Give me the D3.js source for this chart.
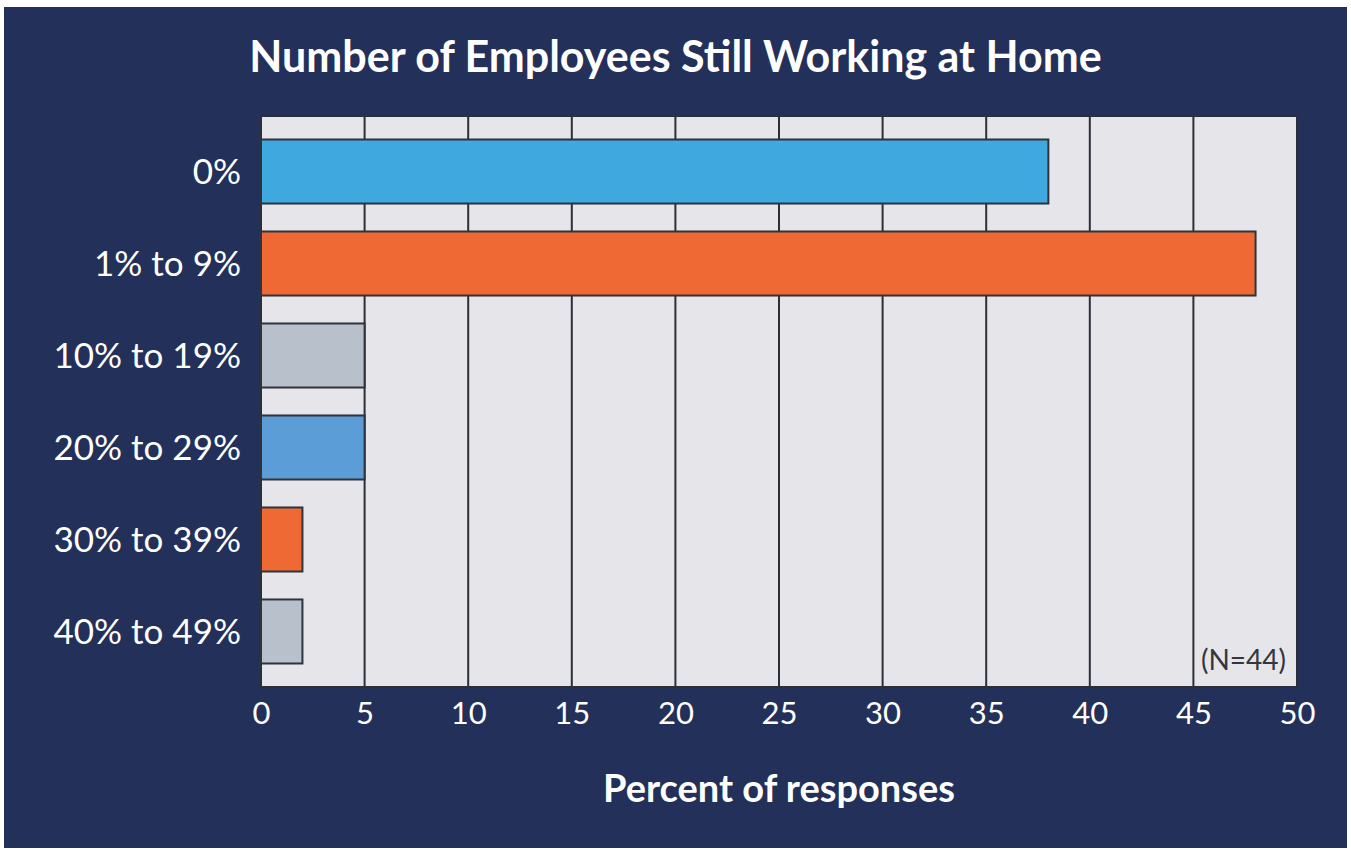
<!DOCTYPE html>
<html>
<head>
<meta charset="utf-8">
<script src="https://cdn.jsdelivr.net/npm/d3@7"></script>
<style>
  html, body { margin: 0; padding: 0; background: #ffffff; }
  svg { display: block; }
</style>
</head>
<body>
<svg id="chart" width="1351" height="850"></svg>
<script>
// Survey data: share of respondents by how many employees still work from home
const categories = ["0%", "1% to 9%", "10% to 19%", "20% to 29%", "30% to 39%", "40% to 49%"];
const percentValues = [38, 48, 5, 5, 2, 2];
const barColors = ["#3fa9df", "#ee6934", "#b8c1cb", "#5b9dd6", "#ee6934", "#b8c1cb"];
const xTicks = [0, 5, 10, 15, 20, 25, 30, 35, 40, 45, 50];
const titleText = "Number of Employees Still Working at Home";
const xAxisTitle = "Percent of responses";
const sampleNote = "(N=44)";

const svg = d3.select("#chart");
const W = 1351, H = 850;
const plot = { left: 261, right: 1297, top: 116, bottom: 687 };

// navy card
svg.append("rect")
  .attr("x", 4).attr("y", 7)
  .attr("width", 1343).attr("height", 841)
  .attr("fill", "#23305a");

const x = d3.scaleLinear().domain([0, 50]).range([plot.left, plot.right]);
const y = d3.scaleBand()
  .domain(categories)
  .range([plot.top, plot.bottom])
  .paddingInner(0.304)
  .paddingOuter(0.2555);

// plot background
svg.append("rect")
  .attr("x", plot.left).attr("y", plot.top)
  .attr("width", plot.right - plot.left).attr("height", plot.bottom - plot.top)
  .attr("fill", "#e6e6ea");

// vertical gridlines
svg.append("g")
  .selectAll("line")
  .data(xTicks)
  .join("line")
  .attr("x1", d => x(d)).attr("x2", d => x(d))
  .attr("y1", plot.top).attr("y2", plot.bottom)
  .attr("stroke", "#2b2f38")
  .attr("stroke-width", 2);

// frame
svg.append("rect")
  .attr("x", plot.left).attr("y", plot.top)
  .attr("width", plot.right - plot.left).attr("height", plot.bottom - plot.top)
  .attr("fill", "none")
  .attr("stroke", "#2b2f38")
  .attr("stroke-width", 2);

// bars
svg.append("g")
  .selectAll("rect")
  .data(percentValues)
  .join("rect")
  .attr("x", x(0))
  .attr("y", (d, i) => y(categories[i]))
  .attr("width", d => x(d) - x(0))
  .attr("height", y.bandwidth())
  .attr("fill", (d, i) => barColors[i])
  .attr("stroke", "#2e333d")
  .attr("stroke-width", 2);

// category axis
const yAxis = svg.append("g")
  .attr("transform", `translate(${plot.left},0)`)
  .call(d3.axisLeft(y).tickSize(0).tickPadding(20));
yAxis.select(".domain").remove();
yAxis.selectAll("text")
  .attr("fill", "#ffffff")
  .attr("font-family", "Lato, sans-serif")
  .attr("font-size", 35)
  .attr("dy", "0.36em");

// value axis
const xAxis = svg.append("g")
  .attr("transform", `translate(0,${plot.bottom})`)
  .call(d3.axisBottom(x).tickValues(xTicks).tickSize(0).tickPadding(15));
xAxis.select(".domain").remove();
xAxis.selectAll("text")
  .attr("fill", "#ffffff")
  .attr("font-family", "Lato, sans-serif")
  .attr("font-size", 31);

// titles
svg.append("text")
  .attr("x", W / 2).attr("y", 72)
  .attr("text-anchor", "middle")
  .attr("fill", "#ffffff")
  .attr("font-family", "Lato, sans-serif")
  .attr("font-weight", 700)
  .attr("font-size", 43)
  .text(titleText);

svg.append("text")
  .attr("x", (plot.left + plot.right) / 2).attr("y", 802)
  .attr("text-anchor", "middle")
  .attr("fill", "#ffffff")
  .attr("font-family", "Lato, sans-serif")
  .attr("font-weight", 700)
  .attr("font-size", 38)
  .text(xAxisTitle);

svg.append("text")
  .attr("x", plot.right - 11).attr("y", 670)
  .attr("text-anchor", "end")
  .attr("fill", "#33363d")
  .attr("font-family", "Lato, sans-serif")
  .attr("font-size", 28)
  .text(sampleNote);
</script>
</body>
</html>
